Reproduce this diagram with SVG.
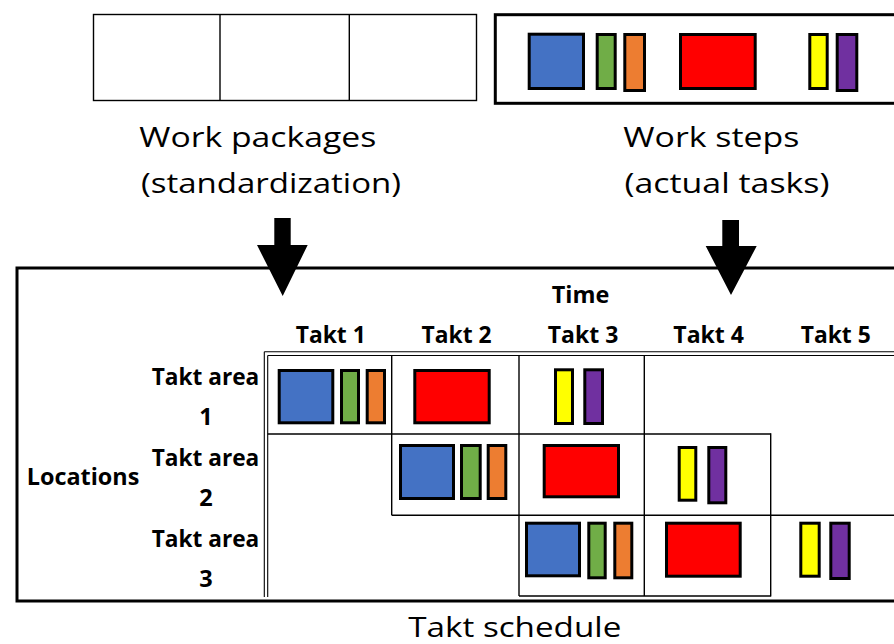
<svg xmlns="http://www.w3.org/2000/svg" width="894" height="644" viewBox="0 0 894 644">
<style>
.reg{font-family:"Open Sans","Noto Sans","Liberation Sans",sans-serif;font-size:28px;fill:#000}
.bold{font-family:"Open Sans","Noto Sans","Liberation Sans",sans-serif;font-size:23.5px;font-weight:bold;fill:#000}
.blk{stroke:#000;stroke-width:3;stroke-linejoin:miter}
.thin{stroke:#000;stroke-width:1.4;fill:none}
.dbl{stroke:#000;stroke-width:1.1;fill:none}
.b{fill:#4472C4}.g{fill:#70AD47}.o{fill:#ED7D31}.r{fill:#FF0000}.y{fill:#FFFF00}.p{fill:#7030A0}
</style>
<rect width="894" height="644" fill="#fff"/>

<g id="work-packages">
<rect x="93.5" y="14.5" width="383" height="86" fill="#fff" class="thin" stroke-width="1.6"/>
<line x1="220" y1="14.5" x2="220" y2="100.5" class="thin"/>
<line x1="349.3" y1="14.5" x2="349.3" y2="100.5" class="thin"/>
<text class="reg" x="139.3" y="146.7" textLength="237" lengthAdjust="spacingAndGlyphs">Work packages</text>
<text class="reg" x="141" y="192.5" textLength="260" lengthAdjust="spacingAndGlyphs">(standardization)</text>
</g>

<g id="work-steps">
<rect x="495.3" y="14.7" width="420" height="88.6" fill="#fff" class="blk"/>
<rect x="529.2" y="34.2" width="54.3" height="54.3" class="blk b"/>
<rect x="597.2" y="34.5" width="18" height="54" class="blk g"/>
<rect x="624.8" y="34.5" width="19.7" height="56" class="blk o"/>
<rect x="680.5" y="34.5" width="74.7" height="54" class="blk r"/>
<rect x="809.8" y="34.5" width="17.4" height="54" class="blk y"/>
<rect x="837.2" y="34.5" width="19.6" height="56" class="blk p"/>
<text class="reg" x="623.3" y="146.7" textLength="176" lengthAdjust="spacingAndGlyphs">Work steps</text>
<text class="reg" x="624.5" y="193" textLength="205" lengthAdjust="spacingAndGlyphs">(actual tasks)</text>
</g>

<g id="takt-schedule">
<rect x="17" y="268" width="900" height="333" fill="#fff" class="blk"/>
<text class="reg" x="408.3" y="637" textLength="213" lengthAdjust="spacingAndGlyphs">Takt schedule</text>
<text class="bold" x="551.7" y="302.7" textLength="57.6" lengthAdjust="spacingAndGlyphs">Time</text>
<text class="bold" x="295.7" y="342.7" textLength="70" lengthAdjust="spacingAndGlyphs">Takt 1</text>
<text class="bold" x="421.5" y="342.7" textLength="70" lengthAdjust="spacingAndGlyphs">Takt 2</text>
<text class="bold" x="547.7" y="342.7" textLength="70.6" lengthAdjust="spacingAndGlyphs">Takt 3</text>
<text class="bold" x="673.3" y="342.7" textLength="70.7" lengthAdjust="spacingAndGlyphs">Takt 4</text>
<text class="bold" x="800.7" y="342.7" textLength="70" lengthAdjust="spacingAndGlyphs">Takt 5</text>
<text class="bold" x="26.7" y="485" textLength="112.6" lengthAdjust="spacingAndGlyphs">Locations</text>
<text class="bold" x="151.7" y="385" textLength="107.6" lengthAdjust="spacingAndGlyphs">Takt area</text>
<text class="bold" x="206" y="425" text-anchor="middle">1</text>
<text class="bold" x="151.7" y="466" textLength="107.6" lengthAdjust="spacingAndGlyphs">Takt area</text>
<text class="bold" x="206" y="506" text-anchor="middle">2</text>
<text class="bold" x="151.7" y="546.7" textLength="107.6" lengthAdjust="spacingAndGlyphs">Takt area</text>
<text class="bold" x="206" y="586.7" text-anchor="middle">3</text>

<g id="grid">
<line x1="264.3" y1="351.7" x2="894" y2="351.7" class="dbl"/>
<line x1="267.7" y1="355.5" x2="894" y2="355.5" class="dbl"/>
<line x1="264.3" y1="351.7" x2="264.3" y2="597" class="dbl"/>
<line x1="267.7" y1="355.5" x2="267.7" y2="597" class="dbl"/>
<line x1="267.7" y1="434" x2="770.7" y2="434" class="thin"/>
<line x1="391.7" y1="515.3" x2="894" y2="515.3" class="thin"/>
<line x1="519" y1="596" x2="770.7" y2="596" class="thin"/>
<line x1="391.7" y1="355.5" x2="391.7" y2="515.3" class="thin"/>
<line x1="519" y1="355.5" x2="519" y2="596" class="thin"/>
<line x1="644.3" y1="355.5" x2="644.3" y2="596" class="thin"/>
<line x1="770.7" y1="433.3" x2="770.7" y2="596.5" class="thin" stroke-width="2.2"/>
</g>

<g id="row1">
<rect x="279.2" y="370.5" width="53.6" height="52.3" class="blk b"/>
<rect x="341.5" y="370.5" width="17" height="52.3" class="blk g"/>
<rect x="367.2" y="370.5" width="17.3" height="52.3" class="blk o"/>
<rect x="414.8" y="370.5" width="74.4" height="52.3" class="blk r"/>
<rect x="555.5" y="369.8" width="17" height="53.7" class="blk y"/>
<rect x="584.8" y="369.8" width="17.7" height="53.7" class="blk p"/>
</g>
<g id="row2">
<rect x="400.5" y="445.5" width="53" height="53" class="blk b"/>
<rect x="461.5" y="445.5" width="18.7" height="53" class="blk g"/>
<rect x="488.2" y="445.5" width="17.6" height="53" class="blk o"/>
<rect x="544.2" y="445.5" width="74.3" height="51.3" class="blk r"/>
<rect x="679.2" y="447.5" width="16.6" height="52.7" class="blk y"/>
<rect x="708.8" y="447.5" width="17" height="55.3" class="blk p"/>
</g>
<g id="row3">
<rect x="526.5" y="523.2" width="53" height="52.6" class="blk b"/>
<rect x="588.8" y="523.2" width="16.4" height="54.6" class="blk g"/>
<rect x="614.8" y="523.2" width="17" height="54.6" class="blk o"/>
<rect x="666.5" y="523.2" width="73.7" height="53" class="blk r"/>
<rect x="800.8" y="523.2" width="18.4" height="53" class="blk y"/>
<rect x="830.8" y="523.2" width="18.4" height="55.3" class="blk p"/>
</g>
</g>

<g id="connectors">
<polygon points="274.3,218 290.7,218 290.7,245 307.7,245 282.7,296 257,245 274.3,245" fill="#000"/>
<polygon points="722.3,220 739,220 739,246 756.7,246 731,295 705.7,246 722.3,246" fill="#000"/>
</g>
</svg>
